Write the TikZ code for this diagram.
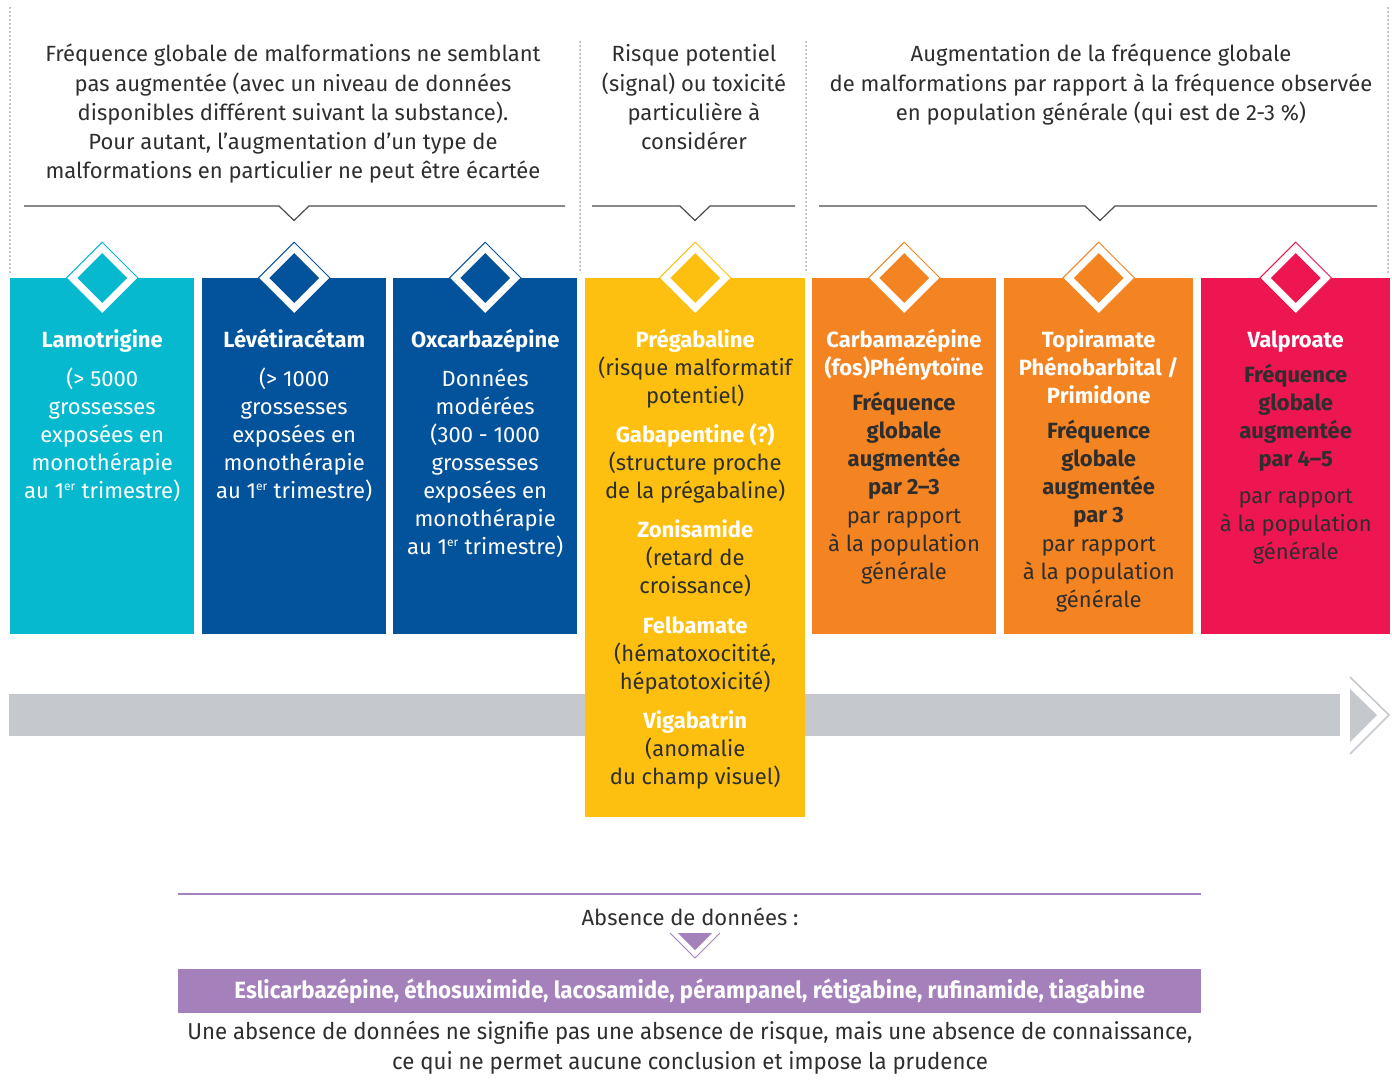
\documentclass[tikz,border=0pt]{standalone}
\usepackage{fontspec}
\setmainfont{Fira Sans}
\newfontfamily\condfont[FakeStretch=0.95]{Fira Sans}
\newfontfamily\notefont[FakeStretch=0.965]{Fira Sans}
\usetikzlibrary{shapes.geometric}
\definecolor{cCyan}{HTML}{06B9CF}
\definecolor{cBlue}{HTML}{03529C}
\definecolor{cYellow}{HTML}{FDC010}
\definecolor{cOrange}{HTML}{F48322}
\definecolor{cRed}{HTML}{EE1651}
\definecolor{cPurple}{HTML}{A581BC}
\definecolor{cBar}{HTML}{C5C9CE}
\definecolor{cText}{HTML}{2E2E2E}
\definecolor{cDot}{HTML}{A5A8AC}
\definecolor{cLine}{HTML}{4A4A4A}
\newcommand{\ersup}{\textsuperscript{\fontsize{12}{12}\selectfont er}}
\begin{document}
\begin{tikzpicture}[x=1pt,y=-1pt,
  colbox/.style={fill=#1,draw=none,inner sep=0,anchor=north west,minimum height=356},
  diaout/.style={diamond,aspect=1,inner sep=0,minimum width=72,minimum height=72,fill=white,draw=#1,line width=1},
  diain/.style={diamond,aspect=1,inner sep=0,minimum width=50,minimum height=50,fill=#1,draw=none},
  boxtxt/.style={anchor=north,inner sep=0,align=center,font=\fontsize{22}{28}\selectfont},
  headtxt/.style={anchor=north,inner sep=0,align=center,text=cText,font=\fontsize{22}{29.3}\selectfont},
  hline/.style={draw=cLine,line width=1.2},
  dotline/.style={draw=cDot,line width=2,dash pattern=on 0pt off 4pt,line cap=round},
]
\useasboundingbox (0,0) rectangle (1392,1081);

% dotted separators
\draw[dotline] (10,8) -- (10,272);
\draw[dotline] (580,42) -- (580,272);
\draw[dotline] (806,42) -- (806,272);
\draw[dotline] (1388,8) -- (1388,272);

% header texts
\node[headtxt] (h1) at (293,41) {\strut Fréquence globale de malformations ne semblant\\pas augmentée (avec un niveau de données\\disponibles différent suivant la substance).\\Pour autant, l’augmentation d’un type de\\malformations en particulier ne peut être écartée};
\node[headtxt] (h2) at (694,41) {\strut Risque potentiel\\(signal) ou toxicité\\particulière à\\considérer};
\node[headtxt] (h3) at (1101,41) {\strut Augmentation de la fréquence globale\\de malformations par rapport à la fréquence observée\\en population générale (qui est de 2-3 \%)};

% bracket lines
\draw[hline] (24,206) -- (279,206) -- (294,220.5) -- (309,206) -- (565,206);
\draw[hline] (592,206) -- (680,206) -- (695,220.5) -- (710,206) -- (795,206);
\draw[hline] (819,206) -- (1085,206) -- (1100,220.5) -- (1115,206) -- (1377,206);

% grey arrow
\fill[cBar] (9,694) rectangle (1340,736);
\fill[cBar] (1350,689) -- (1377,715) -- (1350,742) -- cycle;
\draw[cBar,line width=1.6] (1350,677) -- (1389,715) -- (1350,754);

% coloured columns
\node[colbox=cCyan,minimum width=184] (lam) at (10,278) {};
\node[colbox=cBlue,minimum width=184] (lev) at (202,278) {};
\node[colbox=cBlue,minimum width=184] (oxc) at (393,278) {};
\node[colbox=cYellow,minimum width=220,minimum height=539] (pre) at (585,278) {};
\node[colbox=cOrange,minimum width=184] (car) at (812,278) {};
\node[colbox=cOrange,minimum width=189] (top) at (1004,278) {};
\node[colbox=cRed,minimum width=189] (val) at (1201,278) {};

% diamonds
\foreach \b/\c in {lam/cCyan,lev/cBlue,oxc/cBlue,pre/cYellow,car/cOrange,top/cOrange,val/cRed}{
  \node[diaout=\c] (\b-do) at (\b.north) {};
  \node[diain=\c] (\b-di) at (\b.north) {};
}

% column texts
\node[boxtxt,text=white] (lam-t) at (lam.north |- 0,327.4) {\strut\textbf{Lamotrigine}\\[11pt](> 5000\\grossesses\\exposées en\\monothérapie\\au 1\ersup{} trimestre)};
\node[boxtxt,text=white] (lev-t) at (lev.north |- 0,327.4) {\strut\textbf{Lévétiracétam}\\[11pt](> 1000\\grossesses\\exposées en\\monothérapie\\au 1\ersup{} trimestre)};
\node[boxtxt,text=white] (oxc-t) at (oxc.north |- 0,327.4) {\strut\textbf{Oxcarbazépine}\\[11pt]Données\\modérées\\(300 - 1000\\grossesses\\exposées en\\monothérapie\\au 1\ersup{} trimestre)};
\node[boxtxt,text=cText] (pre-t) at (pre.north |- 0,327.4) {\strut\textcolor{white}{\textbf{Prégabaline}}\\(risque malformatif\\potentiel)\\[11pt]\textcolor{white}{\textbf{Gabapentine (?)}}\\(structure proche\\de la prégabaline)\\[11pt]\textcolor{white}{\textbf{Zonisamide}}\\(retard de\\croissance)\\[12pt]\textcolor{white}{\textbf{Felbamate}}\\(hématoxocitité,\\hépatotoxicité)\\[11pt]\textcolor{white}{\textbf{Vigabatrin}}\\(anomalie\\du champ visuel)};
\node[boxtxt,text=cText] (car-t) at (904,327.4) {\strut\textcolor{white}{\textbf{Carbamazépine}}\\\textcolor{white}{\textbf{(fos)Phénytoïne}}\\[7pt]\textbf{Fréquence}\\\textbf{globale}\\\textbf{augmentée}\\\textbf{par 2–3}\\[1pt]par rapport\\à la population\\générale};
\node[boxtxt,text=cText] (top-t) at (top.north |- 0,327.4) {\strut\textcolor{white}{\textbf{Topiramate}}\\\textcolor{white}{\textbf{Phénobarbital /}}\\\textcolor{white}{\textbf{Primidone}}\\[7pt]\textbf{Fréquence}\\\textbf{globale}\\\textbf{augmentée}\\\textbf{par 3}\\[1pt]par rapport\\à la population\\générale};
\node[boxtxt,text=cText] (val-t) at (val.north |- 0,327.4) {\strut\textcolor{white}{\textbf{Valproate}}\\[7pt]\textbf{Fréquence}\\\textbf{globale}\\\textbf{augmentée}\\\textbf{par 4–5}\\[9pt]par rapport\\à la population\\générale};

% absence de données
\draw[cPurple,line width=1.5] (178,894) -- (1201,894);
\node[inner sep=0,text=cText,font=\fontsize{22}{26}\selectfont,anchor=base] (abs) at (690,925) {Absence de données :};
\fill[cPurple] (678,933) -- (712,933) -- (695,950) -- cycle;
\draw[cPurple,line width=1] (670,933) -- (695,958) -- (720,933);
\node[fill=cPurple,inner sep=0,anchor=north west,minimum width=1023,minimum height=44,text=white,font=\condfont\bfseries\fontsize{23.5}{26}\selectfont] (list) at (178,969) {Eslicarbazépine, éthosuximide, lacosamide, pérampanel, rétigabine, rufinamide, tiagabine};
\node[inner sep=0,anchor=north,align=center,text=cText,font=\notefont\fontsize{23}{30}\selectfont] (note) at (690,1018) {\strut Une absence de données ne signifie pas une absence de risque, mais une absence de connaissance,\\ce qui ne permet aucune conclusion et impose la prudence};
\end{tikzpicture}
\end{document}
